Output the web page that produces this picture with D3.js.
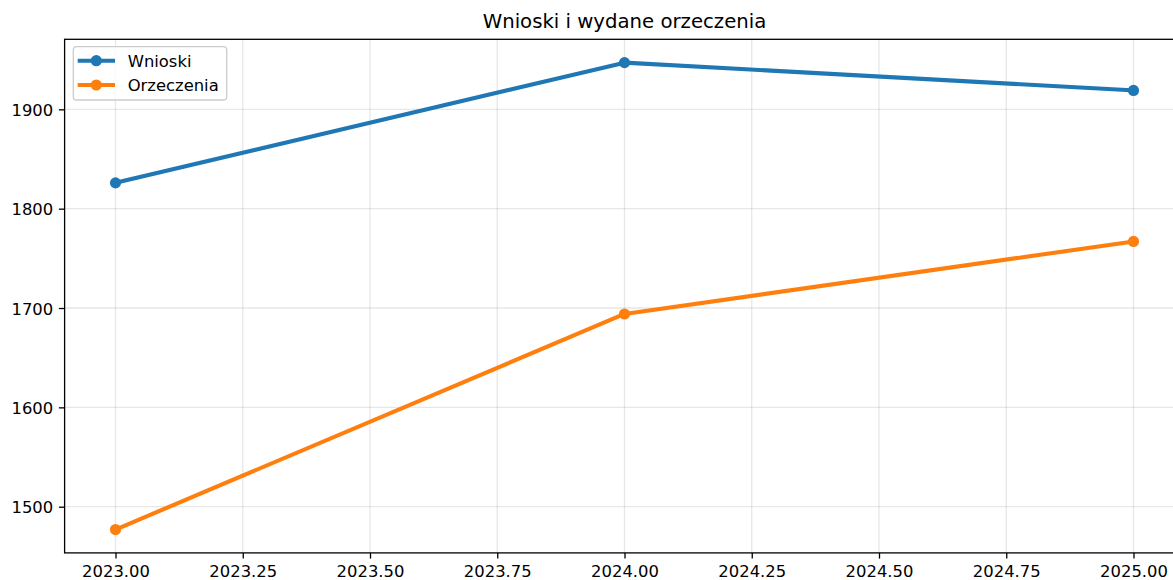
<!DOCTYPE html>
<html>
<head>
<meta charset="utf-8">
<script src="https://cdn.jsdelivr.net/npm/d3@7"></script>
<style>
  html, body { margin: 0; padding: 0; background: #fff; }
  svg { display: block; font-family: "DejaVu Sans", sans-serif; }
</style>
</head>
<body>
<svg id="chart" width="1173" height="580"></svg>
<script>
// Yearly counts of applications and issued decisions
const years = [2023, 2024, 2025];
const wnioski = [1826, 1947, 1919];
const orzeczenia = [1477, 1694, 1767];
const xTicks = [2023.00, 2023.25, 2023.50, 2023.75, 2024.00, 2024.25, 2024.50, 2024.75, 2025.00];
const yTicks = [1500, 1600, 1700, 1800, 1900];
const seriesNames = ["Wnioski", "Orzeczenia"];
const seriesColors = ["#1f77b4", "#ff7f0e"];
const title = "Wnioski i wydane orzeczenia";

const svg = d3.select("#chart");
const plot = { left: 64.6, right: 1184.4, top: 39.3, bottom: 552.9 };

// 5% padding around the data range on both axes
const xMin = d3.min(years), xMax = d3.max(years);
const xPad = (xMax - xMin) * 0.05;
const x = d3.scaleLinear().domain([xMin - xPad, xMax + xPad]).range([plot.left, plot.right]);

const allVals = wnioski.concat(orzeczenia);
const yMin = d3.min(allVals), yMax = d3.max(allVals);
const yPad = (yMax - yMin) * 0.05;
const y = d3.scaleLinear().domain([yMin - yPad, yMax + yPad]).range([plot.bottom, plot.top]);

// grid
const grid = svg.append("g");
grid.selectAll("line.gx").data(xTicks).join("line")
  .attr("x1", d => x(d)).attr("x2", d => x(d))
  .attr("y1", plot.top).attr("y2", plot.bottom)
  .attr("stroke", "#b0b0b0").attr("stroke-opacity", 0.3).attr("stroke-width", 1.3);
grid.selectAll("line.gy").data(yTicks).join("line")
  .attr("x1", plot.left).attr("x2", plot.right)
  .attr("y1", d => y(d)).attr("y2", d => y(d))
  .attr("stroke", "#b0b0b0").attr("stroke-opacity", 0.3).attr("stroke-width", 1.3);

// axes
const xAxis = d3.axisBottom(x).tickValues(xTicks).tickFormat(d3.format(".2f"))
  .tickSize(5.7).tickPadding(5.7).tickSizeOuter(0);
const yAxis = d3.axisLeft(y).tickValues(yTicks).tickFormat(d3.format("d"))
  .tickSize(5.7).tickPadding(5.7).tickSizeOuter(0);

const gx = svg.append("g").attr("transform", `translate(0,${plot.bottom})`).call(xAxis);
const gy = svg.append("g").attr("transform", `translate(${plot.left},0)`).call(yAxis);
[gx, gy].forEach(g => {
  g.select(".domain").remove();
  g.selectAll(".tick line").attr("stroke", "#000").attr("stroke-width", 1.3);
  g.selectAll(".tick text").attr("fill", "#000")
    .style("font-family", "DejaVu Sans").style("font-size", "16.4px");
});
gx.selectAll(".tick text").attr("dy", null).attr("y", 5.7 + 5.7 + 12.6);
gy.selectAll(".tick text").attr("dy", null).attr("y", 6);

// spines
svg.append("rect")
  .attr("x", plot.left).attr("y", plot.top)
  .attr("width", plot.right - plot.left).attr("height", plot.bottom - plot.top)
  .attr("fill", "none").attr("stroke", "#000").attr("stroke-width", 1.3);

// series
const series = [wnioski, orzeczenia];
const line = d3.line().x((d, i) => x(years[i])).y(d => y(d));
series.forEach((vals, k) => {
  svg.append("path").datum(vals)
    .attr("d", line).attr("fill", "none")
    .attr("stroke", seriesColors[k]).attr("stroke-width", 4.1)
    .attr("stroke-linejoin", "round").attr("stroke-linecap", "square");
  svg.append("g").selectAll("circle").data(vals).join("circle")
    .attr("cx", (d, i) => x(years[i])).attr("cy", d => y(d))
    .attr("r", 5.6).attr("fill", seriesColors[k]);
});

// title
svg.append("text")
  .attr("x", (plot.left + plot.right) / 2).attr("y", 28.3)
  .attr("text-anchor", "middle").attr("fill", "#000")
  .style("font-size", "19.7px").text(title);

// legend
const lg = svg.append("g");
lg.append("rect")
  .attr("x", 73.3).attr("y", 46.7).attr("width", 153.4).attr("height", 53.3)
  .attr("rx", 3.3).attr("fill", "#fff").attr("fill-opacity", 0.8)
  .attr("stroke", "#cccccc").attr("stroke-width", 1.3);
const rowY = [60.7, 85];
seriesNames.forEach((name, k) => {
  lg.append("line")
    .attr("x1", 77.7).attr("x2", 115).attr("y1", rowY[k]).attr("y2", rowY[k])
    .attr("stroke", seriesColors[k]).attr("stroke-width", 4.1);
  lg.append("circle").attr("cx", 96.3).attr("cy", rowY[k]).attr("r", 5.6).attr("fill", seriesColors[k]);
  lg.append("text").attr("x", 127.7).attr("y", rowY[k] + 6)
    .attr("fill", "#000").style("font-size", "16.4px").text(name);
});
</script>
</body>
</html>
